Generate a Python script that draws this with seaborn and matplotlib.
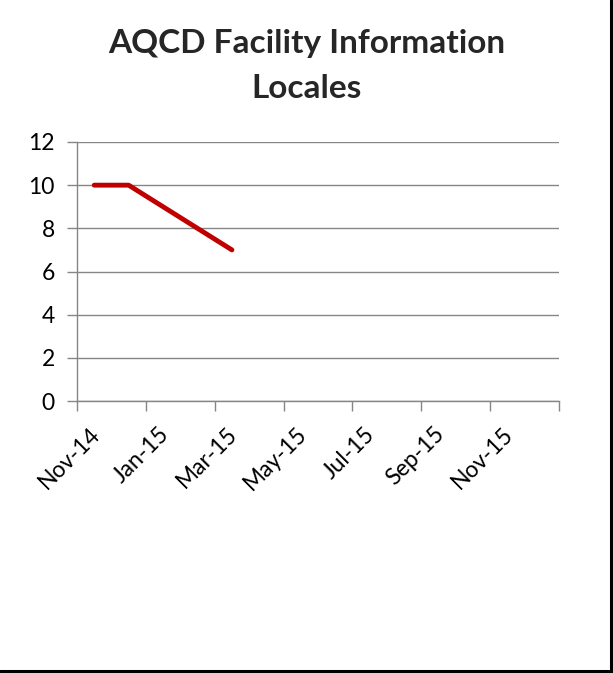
import matplotlib
matplotlib.use("Agg")
import matplotlib.pyplot as plt
import matplotlib.transforms as mtransforms
import seaborn as sns
import pandas as pd
from matplotlib.lines import Line2D

# Monthly facility locale counts
months = ["Nov-14", "Dec-14", "Mar-15"]
locales = [10, 10, 7]

# Axis layout: monthly slots from Nov-14 through Dec-15, labels every two months
axis_start = "Nov-14"
axis_months = 14
tick_labels = ["Nov-14", "Jan-15", "Mar-15", "May-15", "Jul-15", "Sep-15", "Nov-15"]
y_ticks = [0, 2, 4, 6, 8, 10, 12]

sns.set_style("white")
plt.rcParams["font.family"] = ["Lato", "DejaVu Sans"]

start = pd.Period(pd.to_datetime(axis_start, format="%b-%y"), freq="M")
periods = [pd.Period(pd.to_datetime(m, format="%b-%y"), freq="M") for m in months]
# each point sits in the middle of its month slot
slot = [(p - start).n + 0.5 for p in periods]
df = pd.DataFrame({"slot": slot, "locales": locales})

W, H = 613, 673
fig = plt.figure(figsize=(W / 100, H / 100), dpi=100)
ax = fig.add_axes([77 / W, 1 - 401 / H, (559 - 77) / W, (401 - 142) / H])

grid_c = "#868686"
sns.lineplot(data=df, x="slot", y="locales", ax=ax, color="#C00000",
             linewidth=3.5, solid_capstyle="round", solid_joinstyle="round",
             zorder=3)

ax.set_xlim(0, axis_months)
ax.set_ylim(0, 12)
ax.set_yticks(y_ticks)
ax.set_yticklabels([str(v) for v in y_ticks])
tick_pos = list(range(0, axis_months + 1, 2))
ax.set_xticks(tick_pos)
labels = []
for i, p in enumerate(tick_pos):
    labels.append(tick_labels[i] if i < len(tick_labels) else "")
ax.set_xticklabels(labels, rotation=45, ha="right", rotation_mode="anchor")

ax.grid(axis="y", color=grid_c, linewidth=1.0)
ax.grid(axis="x", visible=False)
for s in ["top", "right"]:
    ax.spines[s].set_visible(False)
for s in ["left", "bottom"]:
    ax.spines[s].set_color(grid_c)
    ax.spines[s].set_linewidth(1.0)
ax.tick_params(axis="both", direction="out", length=7, width=1.0,
               color=grid_c, labelsize=16.5, labelcolor="black",
               bottom=True, left=True)
ax.tick_params(axis="y", pad=9)
ax.tick_params(axis="x", pad=9)
ax.set_xlabel("")
ax.set_ylabel("")

# rotated date labels sit slightly to the right of their ticks
shift = mtransforms.ScaledTranslation(12 / 100, 0, fig.dpi_scale_trans)
for lbl in ax.get_xticklabels():
    lbl.set_transform(lbl.get_transform() + shift)

fig.text(0.5, 1 - 43 / H, "AQCD Facility Information", ha="center", va="center",
         fontsize=24, fontweight="bold")
fig.text(0.5, 1 - 88 / H, "Locales", ha="center", va="center",
         fontsize=24, fontweight="bold")

# chart frame edges
fig.add_artist(Line2D([610.5 / W, 610.5 / W], [1 - 671 / H, 1], color="black",
                      linewidth=2.2, transform=fig.transFigure))
fig.add_artist(Line2D([0, 612 / W], [1 - 670.5 / H, 1 - 670.5 / H], color="black",
                      linewidth=2.2, transform=fig.transFigure))

fig.savefig("out.png", dpi=100)
